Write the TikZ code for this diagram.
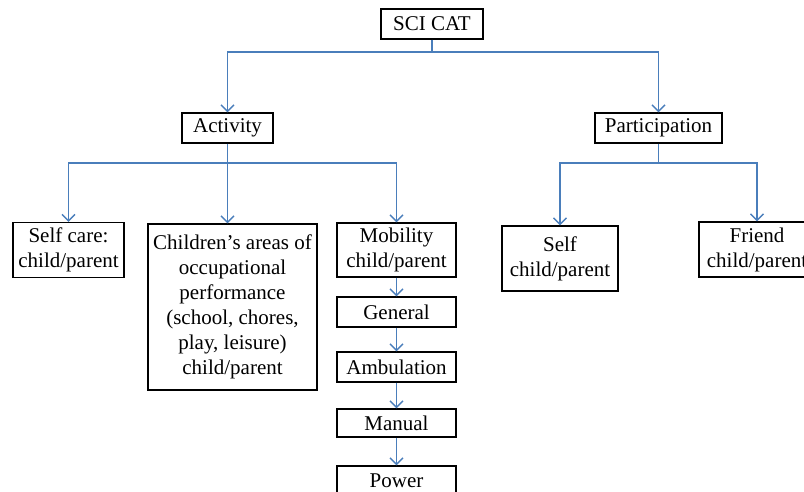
\documentclass[tikz,border=0pt]{standalone}
\usepackage{fontspec}
\setmainfont{Liberation Serif}
\usetikzlibrary{arrows.meta}
\definecolor{lnblue}{HTML}{4A7EBB}
\begin{document}
\begin{tikzpicture}[x=1pt,y=-1pt,
  box/.style={draw=black, line width=1.4pt, inner sep=0pt, align=center,
    font=\fontsize{21}{25}\selectfont},
  conn/.style={draw=lnblue, line width=1.4pt, -{Straight Barb[length=6.5pt,width=13pt]}},
  bus/.style={draw=lnblue, line width=1.4pt}]
\useasboundingbox (0,0) rectangle (804,491);
\clip (0,0) rectangle (804,491);
\fill[white] (0,0) rectangle (804,491);

\node[box, minimum width=102pt, minimum height=30pt] (sci) at (432,24) {SCI CAT};
\node[box, minimum width=91pt, minimum height=30pt] (act) at (227.5,128) {Activity};
\node[box, minimum width=127pt, minimum height=30pt] (part) at (658.5,128) {Participation};

\node[box, minimum width=111pt, minimum height=55pt] (sc) at (68.5,250) {Self care:\\child/parent};
\node[box, minimum width=169pt, minimum height=166pt] (ch) at (232.5,307)
  {Children’s areas of\\occupational\\performance\\(school, chores,\\play, leisure)\\child/parent};
\node[box, minimum width=119pt, minimum height=54pt] (mob) at (396.5,250) {Mobility\\child/parent};
\node[box, minimum width=119pt, minimum height=30pt] (gen) at (396.5,312) {General};
\node[box, minimum width=119pt, minimum height=30pt] (amb) at (396.5,367) {Ambulation};
\node[box, minimum width=119pt, minimum height=28pt] (man) at (396.5,423) {Manual};
\node[box, minimum width=119pt, minimum height=30pt] (pow) at (396.5,481) {Power};

\node[box, minimum width=116pt, minimum height=65pt] (ps) at (560,258.5) {Self\\child/parent};
\node[box, minimum width=116pt, minimum height=55pt] (fr) at (757,249.5) {Friend\\child/parent};

\coordinate (b1) at (432,52);
\draw[bus] (sci.south) -- (b1);
\draw[conn] (b1) -| (act.north);
\draw[conn] (b1) -| (part.north);

\coordinate (b2) at (227.5,163);
\draw[bus] (act.south) -- (b2);
\draw[conn] (b2) -| (sc.north);
\draw[conn] (b2) -- (b2 |- ch.north);
\draw[conn] (b2) -| (mob.north);

\coordinate (b3) at (658.5,163);
\draw[bus] (part.south) -- (b3);
\draw[conn] (b3) -| (ps.north);
\draw[conn] (b3) -| (fr.north);

\draw[conn] (mob.south) -- (gen.north);
\draw[conn] (gen.south) -- (amb.north);
\draw[conn] (amb.south) -- (man.north);
\draw[conn] (man.south) -- (pow.north);
\end{tikzpicture}
\end{document}
